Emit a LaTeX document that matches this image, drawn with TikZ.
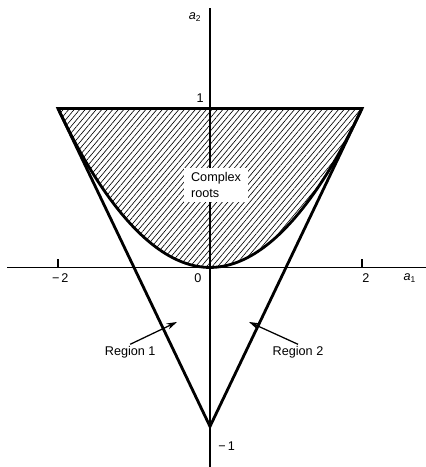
\documentclass[tikz,border=0pt]{standalone}
\usepackage{fontspec}
\setmainfont{Liberation Sans}
\usetikzlibrary{arrows.meta, positioning, patterns.meta}

\begin{document}
\begin{tikzpicture}[
  x=1.9cm, y=3.975cm,
  axis/.style={line width=1pt},
  bound/.style={line width=2pt, line join=miter},
  lbl/.style={font=\fontsize{9}{11}\selectfont, inner sep=1pt},
  >={Stealth[length=2.6mm, width=1.6mm]}
]
\useasboundingbox (-2.763,-1.255) rectangle (2.842,1.682);
\coordinate (tl) at (-2,1);
\coordinate (tr) at (2,1);
\coordinate (apex) at (0,-1);
\coordinate (O) at (0,0);

% complex roots area
\fill[pattern={Lines[angle=50, distance=3pt, line width=0.45pt]}]
  (tl) parabola bend (O) (tr) -- cycle;

% axes
\draw[axis] (-2.67,0) coordinate (xl) -- (2.842,0) coordinate (xr);
\draw[axis] (0,-1.255) coordinate (yb) -- (0,1.632) coordinate (yt);
\draw[axis] (-2,0) -- ++(0,0.05);
\draw[axis] (2,0) -- ++(0,0.05);

% triangle and parabola
\draw[bound] (tl) -- (tr) -- (apex) -- cycle;
\draw[bound] (O) -- (apex);
\draw[bound] (tl) parabola bend (O) (tr);

\node[lbl, fill=white, align=left, inner xsep=5pt, inner ysep=3pt]
  (cr) at (0.08,0.519) {Complex\\roots};

\node[lbl] (a2) at (-0.197,1.575) {\textit{a}\textsubscript{2}};
\node[lbl] (a1) at (2.63,-0.066) {\textit{a}\textsubscript{1}};
\node[lbl] (one) at (-0.13,1.066) {1};
\node[lbl] (mone) at (0.22,-1.123) {−\,1};
\node[lbl] (mtwo) at (-1.97,-0.066) {−\,2};
\node[lbl] (zero) at (-0.158,-0.066) {0};
\node[lbl] (two) at (2.05,-0.066) {2};

\node[lbl] (r1) at (-1.05,-0.531) {Region 1};
\node[lbl] (r2) at (1.158,-0.531) {Region 2};
\coordinate (h1) at (-0.434,-0.343);
\coordinate (h2) at (0.513,-0.343);
\draw[->, line width=0.9pt] (r1.north) -- (h1);
\draw[->, line width=0.9pt] (r2.north) -- (h2);
\end{tikzpicture}
\end{document}
